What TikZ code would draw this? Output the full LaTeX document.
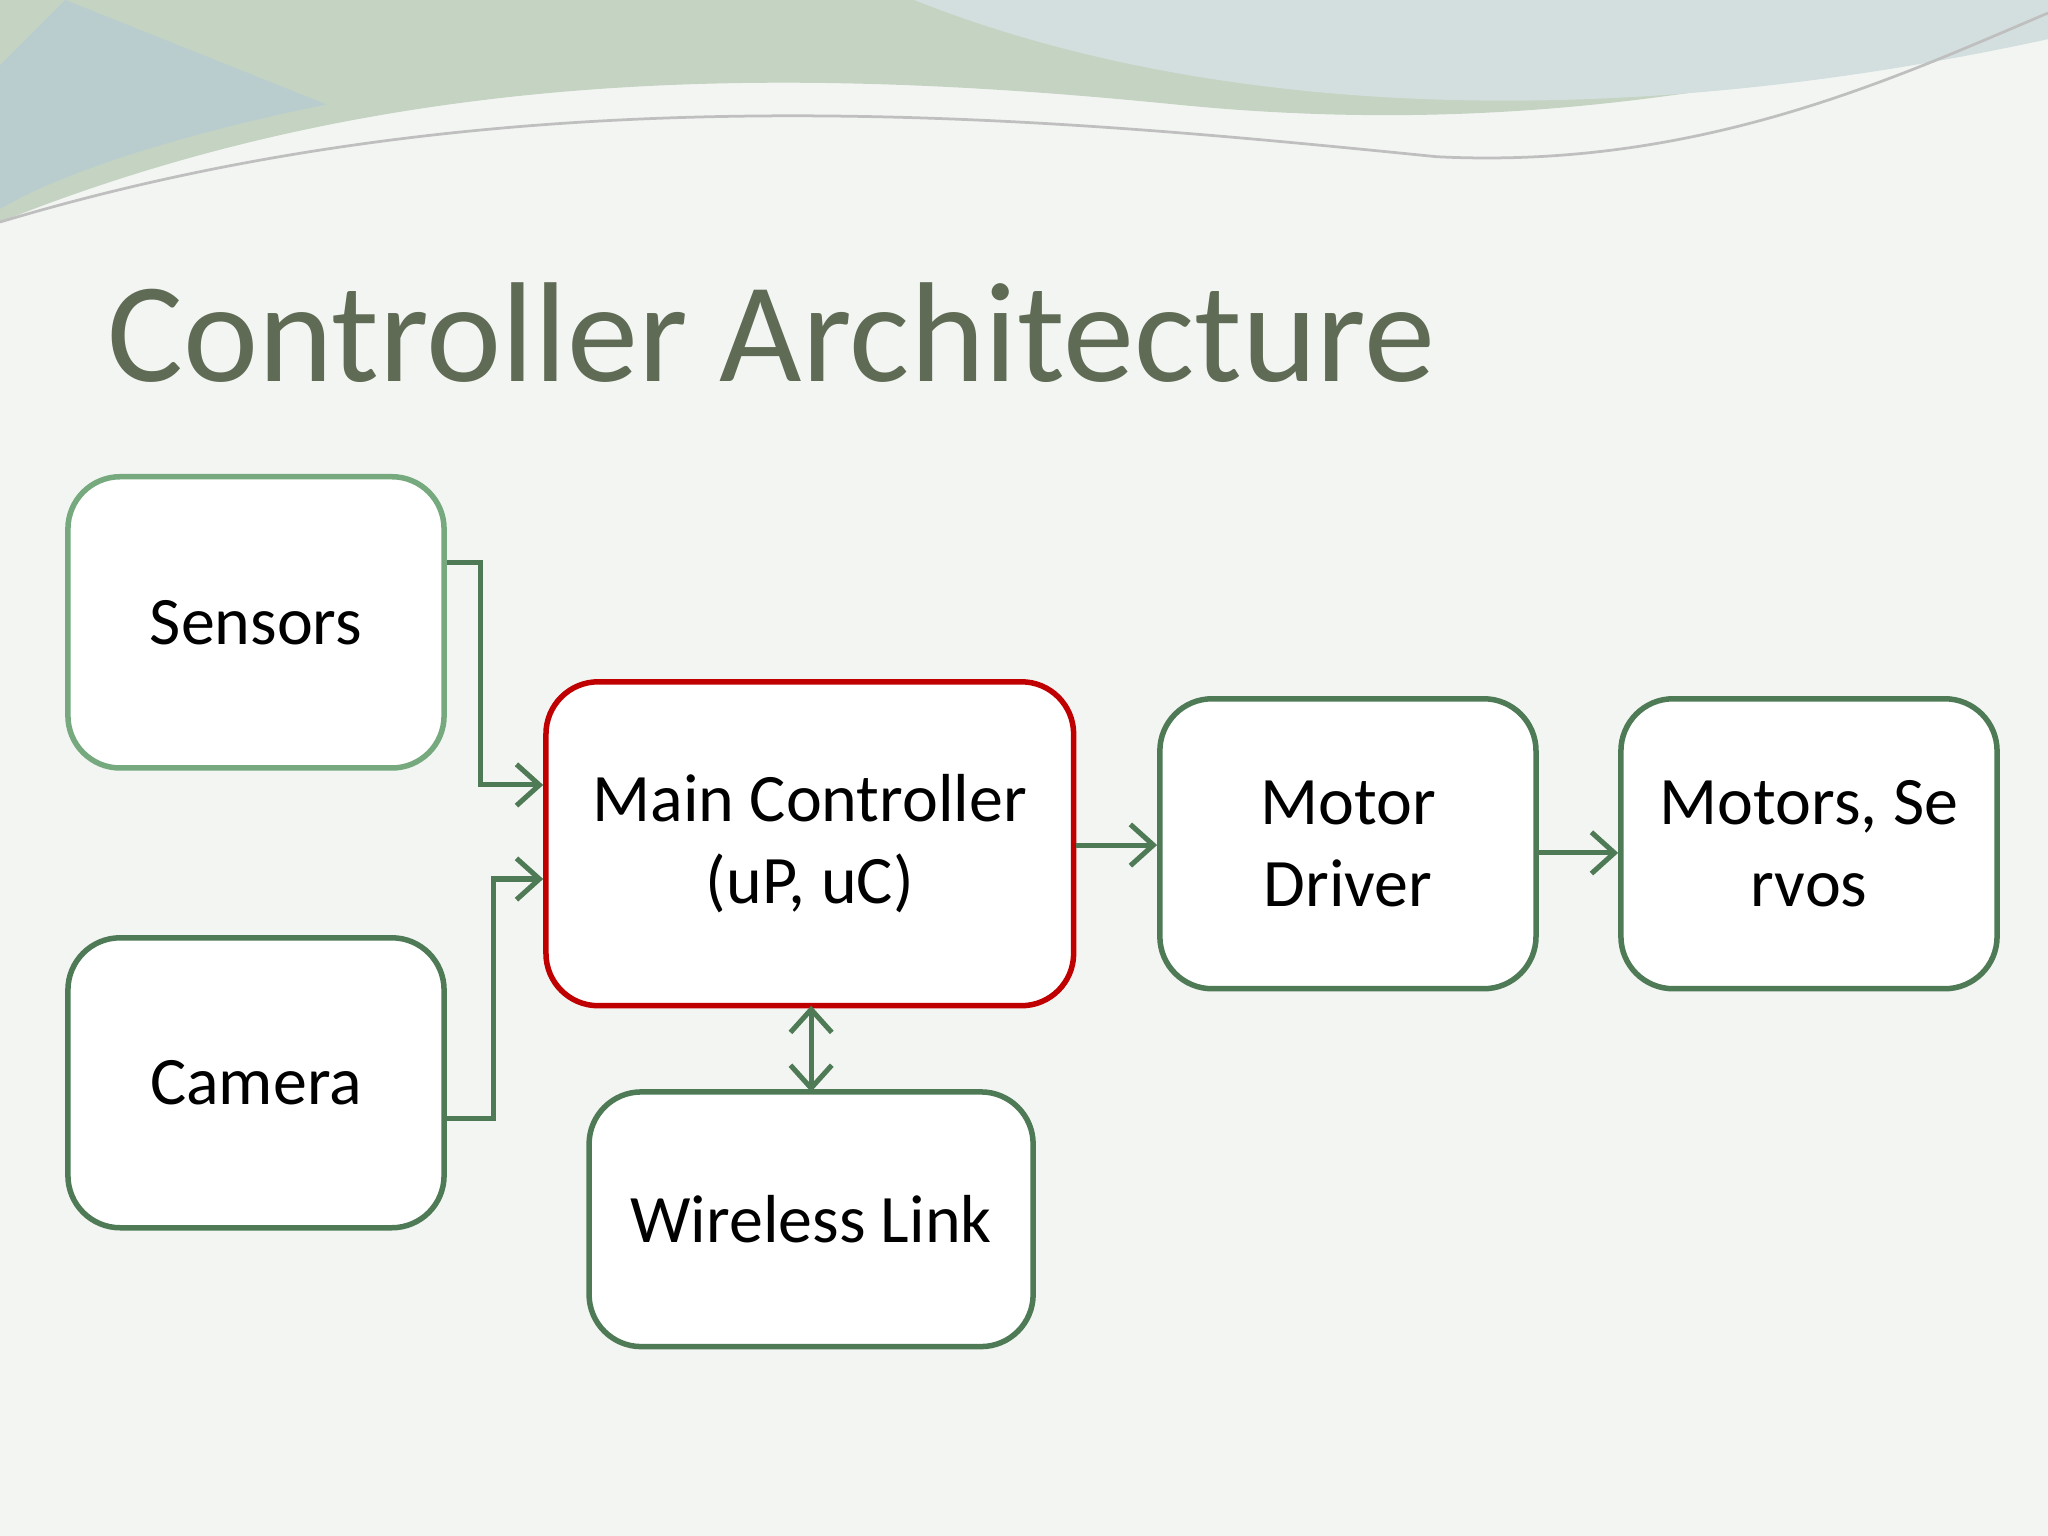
\documentclass[tikz,border=0pt]{standalone}
\usepackage{fontspec}
\setmainfont{Carlito}
\usetikzlibrary{arrows.meta}
\definecolor{bg}{HTML}{F3F5F3}
\definecolor{gbox}{HTML}{4E7A55}
\definecolor{lgbox}{HTML}{76AA7E}
\definecolor{rbox}{HTML}{C00000}
\definecolor{titlec}{HTML}{5F6B54}
\definecolor{wave1}{HTML}{C5D3C2}
\definecolor{wave2}{HTML}{D3DFDF}
\definecolor{wave3}{HTML}{B9CDCF}
\tikzset{
 box/.style={draw=gbox,line width=1.2pt,rounded corners=0.4cm,fill=white,inner sep=0pt,font=\fontsize{14.8}{18}\selectfont,align=center},
 conn/.style={draw=gbox,line width=1.1pt,-{Straight Barb[length=5pt,width=9pt]}},
}
\begin{document}
\begin{tikzpicture}
\useasboundingbox (0,0) rectangle (15.68,-11.76);
\fill[bg] (0,0) rectangle (15.68,-11.76);
% top waves
\fill[wave1] (0,0) -- (0,-1.7) .. controls (3,-0.5) and (6,-0.5) .. (9,-0.8) .. controls (12,-1.1) and (14,-0.5) .. (15.68,-0.2) -- (15.68,0) -- cycle;
\fill[wave3] (0,-0.5) -- (0,-1.6) .. controls (0.5,-1.3) and (1.5,-1.0) .. (2.5,-0.8) -- (0.5,0) -- cycle;
\fill[wave2] (7,0) .. controls (9,-0.8) and (12,-1.1) .. (15.68,-0.3) -- (15.68,0) -- cycle;
\fill[bg] (0,-1.75) .. controls (3,-0.7) and (6,-0.7) .. (9,-1.05) .. controls (12,-1.3) and (14,-0.7) .. (15.68,-0.4) -- (15.68,-11.76) -- (0,-11.76) -- cycle;
\draw[gray!50,line width=0.6pt] (0,-1.7) .. controls (4,-0.5) and (8,-0.9) .. (11,-1.2) .. controls (13,-1.3) and (14.5,-0.6) .. (15.68,-0.1);
\node[anchor=west,text=titlec,font=\fontsize{31}{36}\selectfont] (title) at (0.70,-2.55) {Controller Architecture};
\node[box,draw=lgbox,minimum width=2.88cm,minimum height=2.23cm] (sens) at (1.96,-4.765) {Sensors};
\node[box,minimum width=2.88cm,minimum height=2.22cm] (cam) at (1.96,-8.29) {Camera};
\node[box,draw=rbox,minimum width=4.04cm,minimum height=2.48cm] (main) at (6.20,-6.46) {Main Controller\\(uP, uC)};
\node[box,minimum width=2.88cm,minimum height=2.22cm] (md) at (10.32,-6.46) {Motor\\Driver};
\node[box,minimum width=2.88cm,minimum height=2.22cm] (ms) at (13.85,-6.46) {Motors, Se\\rvos};
\node[box,minimum width=3.40cm,minimum height=1.95cm] (wl) at (6.21,-9.335) {Wireless Link};
\draw[conn] (sens.east |- 0,-4.31) -| (3.68,-6.01) -- (main.west |- 0,-6.01);
\draw[conn] (cam.east |- 0,-8.56) -| (3.78,-6.73) -- (main.west |- 0,-6.73);
\draw[conn] (main.east |- 0,-6.47) -- (md.west |- 0,-6.47);
\draw[conn] (md.east |- 0,-6.53) -- (ms.west |- 0,-6.53);
\draw[conn,{Straight Barb[length=5pt,width=9pt]}-{Straight Barb[length=5pt,width=9pt]}] (6.21,-7.70) -- (6.21,-8.36);
\end{tikzpicture}
\end{document}
